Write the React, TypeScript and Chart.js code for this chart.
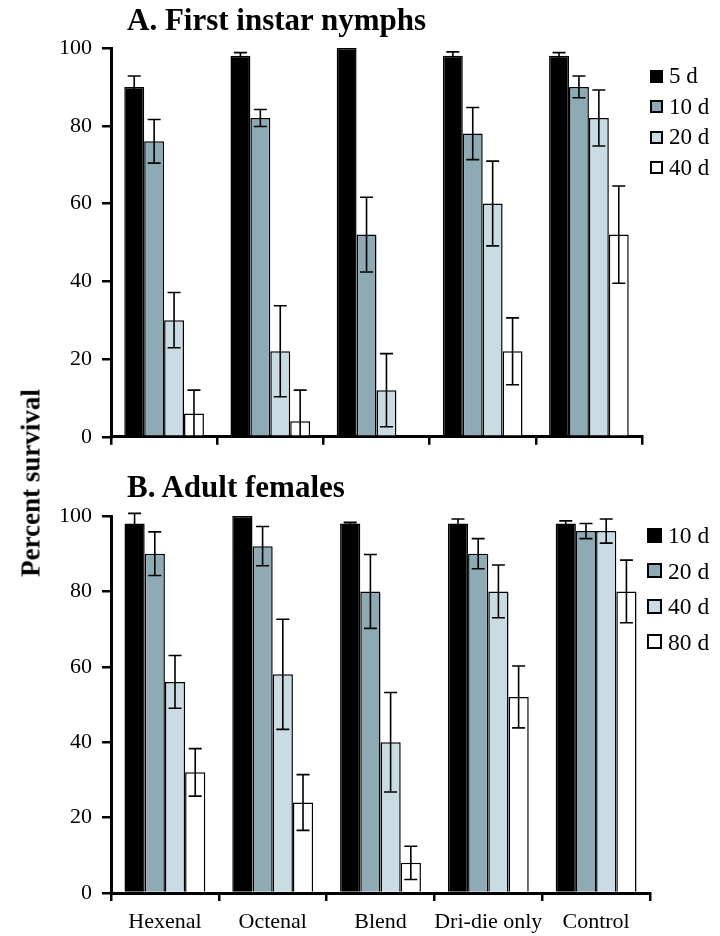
import React, { useEffect, useRef } from "react";
import { Chart, registerables } from "chart.js";

Chart.register(...registerables);

const FONT = "'Liberation Serif', 'Times New Roman', serif";

// Treatment groups along the x axis
const treatments = ["Hexenal", "Octenal", "Blend", "Dri-die only", "Control"];

// Panel A: first instar nymphs, percent survival (mean and SE)
const nymphLabels = ["5 d", "10 d", "20 d", "40 d"];
const nymph5d = [90, 98, 100, 98, 98];
const nymph5dErr = [2.8, 0.8, 0, 1, 0.8];
const nymph10d = [76, 82, 52, 78, 90];
const nymph10dErr = [5.6, 2.2, 9.6, 6.7, 2.8];
const nymph20d = [30, 22, 12, 60, 82];
const nymph20dErr = [7.1, 11.7, 9.4, 10.9, 7.2];
const nymph40d = [6, 4, 0, 22, 52];
const nymph40dErr = [6, 8, 0, 8.6, 12.5];

// Panel B: adult females, percent survival (mean and SE)
const femaleLabels = ["10 d", "20 d", "40 d", "80 d"];
const female10d = [98, 100, 98, 98, 98];
const female10dErr = [2.7, 0, 0.3, 1.2, 0.7];
const female20d = [90, 92, 80, 90, 96];
const female20dErr = [5.8, 5.2, 9.8, 4, 2];
const female40d = [56, 58, 40, 80, 96];
const female40dErr = [7, 14.6, 13.2, 7, 3.2];
const female80d = [32, 24, 8, 52, 80];
const female80dErr = [6.3, 7.4, 4.4, 8.2, 8.3];

const yTicks = [0, 20, 40, 60, 80, 100];

const seriesColors = ["#000000", "#8eaab5", "#c9dce3", "#ffffff"];

// Draws symmetric SE whiskers with caps on top of each bar
const errorBarPlugin = {
  id: "errorBars",
  afterDatasetsDraw(chart: any) {
    const { ctx } = chart;
    const yScale = chart.scales.y;
    chart.data.datasets.forEach((ds: any, di: number) => {
      const meta = chart.getDatasetMeta(di);
      meta.data.forEach((bar: any, i: number) => {
        const v = ds.data[i];
        const e = ds.errors[i];
        if (!e) return;
        const yTop = yScale.getPixelForValue(v + e);
        const yBot = yScale.getPixelForValue(Math.max(0, v - e));
        const x = bar.x;
        const cap = 6.5;
        ctx.save();
        ctx.strokeStyle = "#000";
        ctx.lineWidth = 1.6;
        ctx.beginPath();
        ctx.moveTo(x, yTop);
        ctx.lineTo(x, yBot);
        ctx.moveTo(x - cap, yTop);
        ctx.lineTo(x + cap, yTop);
        if (v - e > 0) {
          ctx.moveTo(x - cap, yBot);
          ctx.lineTo(x + cap, yBot);
        }
        ctx.stroke();
        ctx.restore();
      });
    });
  },
};

type PanelProps = {
  top: number;
  height: number;
  padTop: number;
  padRight: number;
  xHeight: number;
  showX: boolean;
  labels: string[];
  values: number[][];
  errors: number[][];
};

function Panel(p: PanelProps) {
  const ref = useRef<HTMLCanvasElement | null>(null);
  useEffect(() => {
    if (!ref.current) return;
    const chart = new Chart(ref.current, {
      type: "bar",
      data: {
        labels: treatments,
        datasets: p.labels.map((lab, k) => ({
          label: lab,
          data: p.values[k],
          errors: p.errors[k],
          backgroundColor: seriesColors[k],
          borderColor: "#000",
          borderWidth: 1.5,
          barPercentage: 1,
          categoryPercentage: 0.75,
        })) as any,
      },
      options: {
        animation: false,
        responsive: false,
        devicePixelRatio: 1,
        layout: { padding: { top: p.padTop, right: p.padRight, left: 0, bottom: 0 } },
        plugins: { legend: { display: false }, tooltip: { enabled: false } },
        scales: {
          x: {
            grid: {
              offset: true,
              drawOnChartArea: false,
              drawTicks: true,
              tickLength: 8,
              color: "#000",
              lineWidth: 2.5,
            },
            border: { display: true, color: "#000", width: 3 },
            ticks: {
              display: p.showX,
              color: "#000",
              padding: 8,
              font: { family: FONT, size: 22 },
              maxRotation: 0,
              autoSkip: false,
            },
            afterFit: (s: any) => {
              s.height = p.xHeight;
            },
          },
          y: {
            min: 0,
            max: 100,
            afterBuildTicks: (s: any) => {
              s.ticks = yTicks.map((v) => ({ value: v }));
            },
            grid: {
              drawOnChartArea: false,
              drawTicks: true,
              tickLength: 9,
              color: "#000",
              lineWidth: 2.5,
            },
            border: { display: true, color: "#000", width: 3 },
            ticks: {
              color: "#000",
              padding: 10,
              font: { family: FONT, size: 22 },
            },
            afterFit: (s: any) => {
              s.width = 111;
            },
          },
        },
      },
      plugins: [errorBarPlugin],
    });
    return () => chart.destroy();
  }, []);
  return (
    <canvas
      ref={ref}
      width={720}
      height={p.height}
      style={{ position: "absolute", left: 0, top: p.top, width: 720, height: p.height }}
    />
  );
}

function Legend(props: {
  labels: string[];
  left: number;
  top: number;
  gap: number;
  size: number;
  fontSize: number;
}) {
  return (
    <div style={{ position: "absolute", left: props.left, top: props.top }}>
      {props.labels.map((lab, k) => (
        <div
          key={lab}
          style={{
            position: "absolute",
            top: k * props.gap,
            left: 0,
            display: "flex",
            alignItems: "center",
            whiteSpace: "nowrap",
            height: 24,
          }}
        >
          <span
            style={{
              display: "inline-block",
              width: props.size,
              height: props.size,
              boxSizing: "border-box",
              border: "2px solid #000",
              background: seriesColors[k],
              marginRight: 6,
            }}
          />
          <span style={{ fontFamily: FONT, fontSize: props.fontSize, color: "#000", lineHeight: "24px" }}>
            {lab}
          </span>
        </div>
      ))}
    </div>
  );
}

export default function App() {
  return (
    <div
      style={{
        position: "absolute",
        left: 0,
        top: 0,
        width: 720,
        height: 936,
        background: "#fff",
        overflow: "hidden",
      }}
    >
      <Panel
        top={0}
        height={460}
        padTop={48}
        padRight={78}
        xHeight={19}
        showX={false}
        labels={nymphLabels}
        values={[nymph5d, nymph10d, nymph20d, nymph40d]}
        errors={[nymph5dErr, nymph10dErr, nymph20dErr, nymph40dErr]}
      />
      <Panel
        top={460}
        height={476}
        padTop={56}
        padRight={70}
        xHeight={43}
        showX={true}
        labels={femaleLabels}
        values={[female10d, female20d, female40d, female80d]}
        errors={[female10dErr, female20dErr, female40dErr, female80dErr]}
      />
      <div
        style={{
          position: "absolute",
          left: 127,
          top: 4,
          fontFamily: FONT,
          fontWeight: "bold",
          fontSize: 31,
          lineHeight: "31px",
          whiteSpace: "nowrap",
        }}
      >
        A. First instar nymphs
      </div>
      <div
        style={{
          position: "absolute",
          left: 127,
          top: 471,
          fontFamily: FONT,
          fontWeight: "bold",
          fontSize: 31,
          lineHeight: "31px",
          whiteSpace: "nowrap",
        }}
      >
        B. Adult females
      </div>
      <div
        style={{
          position: "absolute",
          left: 31,
          top: 483,
          transform: "translate(-50%, -50%) rotate(-90deg)",
          fontFamily: FONT,
          fontWeight: "bold",
          fontSize: 27,
          whiteSpace: "nowrap",
        }}
      >
        Percent survival
      </div>
      <Legend labels={nymphLabels} left={650} top={64} gap={30.5} size={13} fontSize={23} />
      <Legend labels={femaleLabels} left={647} top={523} gap={35.5} size={15} fontSize={23.5} />
    </div>
  );
}
